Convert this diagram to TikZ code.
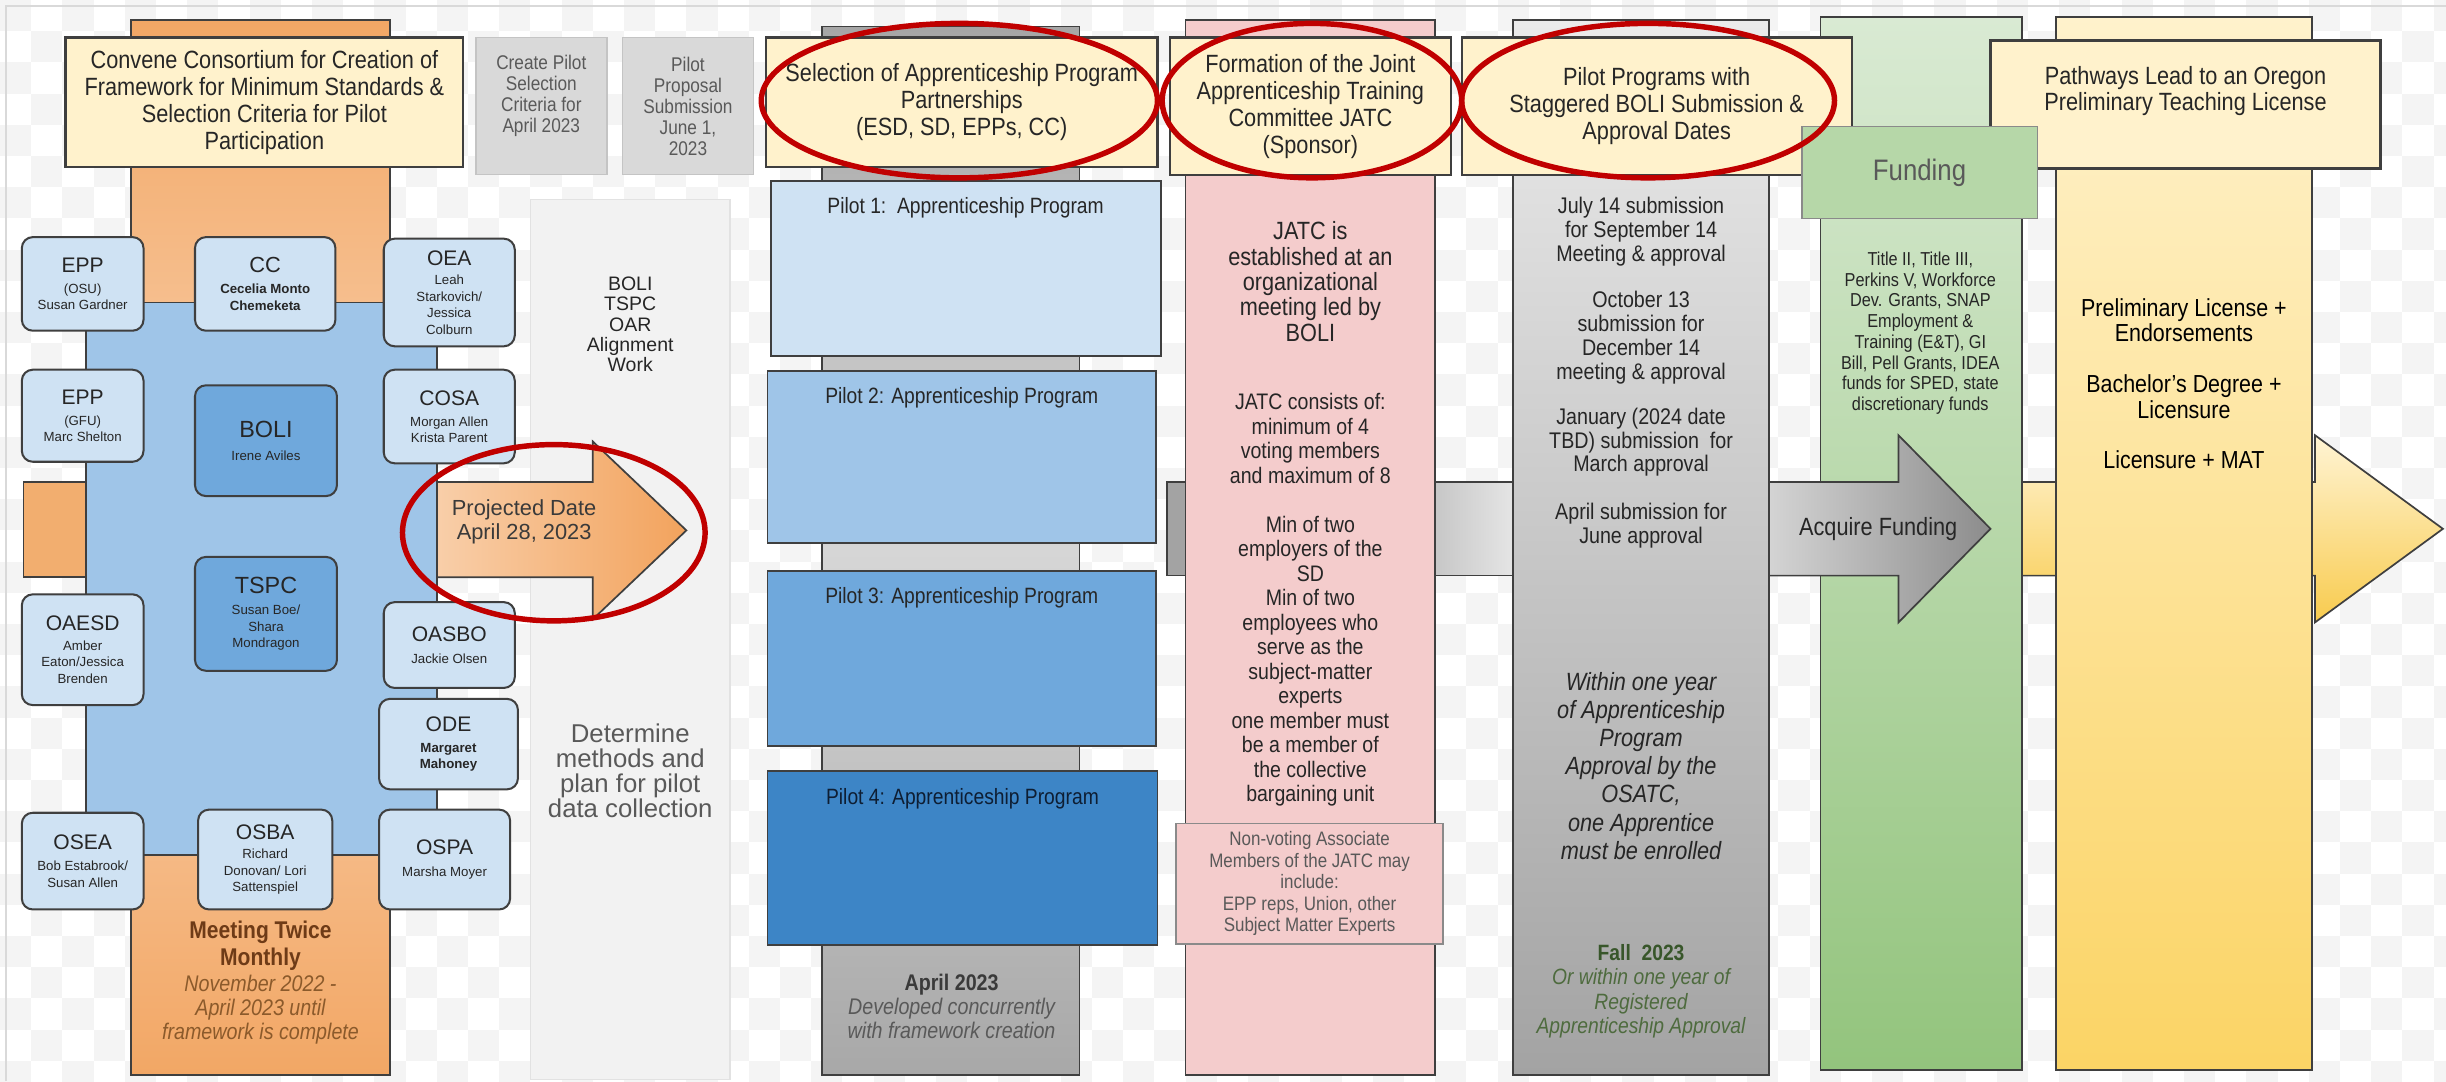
\documentclass[tikz,border=0pt]{standalone}
\usepackage{fontspec}
\setmainfont{Liberation Sans}
\newfontfamily\nar[FakeStretch=0.87]{Liberation Sans}
\usetikzlibrary{shapes.geometric}
\newcommand\fsz[2]{\fontsize{#1}{#2}\selectfont}
\newcommand\acr[2]{{\fontsize{#2}{#2}\selectfont #1}}
\definecolor{hdrfill}{HTML}{FFF2CC}
\definecolor{dk}{HTML}{3F3F3F}
\definecolor{txt}{HTML}{262626}
\definecolor{txtb}{HTML}{3A3A3A}
\definecolor{gtxt}{HTML}{595959}
\definecolor{or1}{HTML}{F2A765}
\definecolor{or2}{HTML}{F9D2B0}
\definecolor{orS}{HTML}{F2AE6F}
\definecolor{orL}{HTML}{FCE4CF}
\definecolor{orR}{HTML}{F2A35D}
\definecolor{bl0}{HTML}{CFE2F3}
\definecolor{bl1}{HTML}{9FC5E8}
\definecolor{bl2}{HTML}{6FA8DC}
\definecolor{bl3}{HTML}{3D85C6}
\definecolor{p4txt}{HTML}{0E1E33}
\definecolor{pinkc}{HTML}{F4CCCC}
\definecolor{ltg}{HTML}{F2F2F2}
\definecolor{ltgb}{HTML}{E2E2E2}
\definecolor{g1}{HTML}{D9D9D9}
\definecolor{g1b}{HTML}{C4C4C4}
\definecolor{gbarT}{HTML}{A6A6A6}
\definecolor{gbarM}{HTML}{D6D6D6}
\definecolor{gbarB}{HTML}{A8A8A8}
\definecolor{ylA}{HTML}{FFF4D4}
\definecolor{ylB}{HTML}{F8CB4E}
\definecolor{gaA}{HTML}{A3A3A3}
\definecolor{gaB1}{HTML}{C4C4C4}
\definecolor{gaB2}{HTML}{E8E8E8}
\definecolor{gaC1}{HTML}{D6D6D6}
\definecolor{gaC2}{HTML}{8C8C8C}
\definecolor{pgT}{HTML}{EBEBEB}
\definecolor{pgB}{HTML}{A3A3A3}
\definecolor{ellred}{HTML}{C00000}
\definecolor{grn1}{HTML}{D9EAD3}
\definecolor{grn2}{HTML}{93C47D}
\definecolor{fund}{HTML}{B6D7A8}
\definecolor{yl1}{HTML}{FFF2CC}
\definecolor{yl2}{HTML}{FBD465}
\definecolor{chk}{HTML}{F4F4F4}
\definecolor{framec}{HTML}{D9D9D9}
\definecolor{meetb}{HTML}{6E3B17}
\definecolor{meeti}{HTML}{8B5A2B}
\definecolor{fallb}{HTML}{38562A}
\definecolor{falli}{HTML}{4E6B3E}
\definecolor{bordg}{HTML}{8A8A8A}
\tikzset{
  colm/.style={draw=dk, line width=1.1pt},
  hdr/.style={draw=dk, fill=hdrfill, line width=1.4pt, inner sep=0pt, align=center, font={\nar\fsz{16}{17.3}}, text=txt},
  mbox/.style={draw=dk, fill=bl0, rounded corners=7pt, line width=1.3pt, inner sep=0pt, align=center, font={\fsz{8.5}{10.5}}, text=txt},
  dbox/.style={mbox, fill=bl2},
  pbox/.style={draw=dk, line width=1.2pt, inner sep=0pt},
  gbox/.style={draw=g1b, fill=g1, line width=1pt, inner sep=0pt, align=center, font={\nar\fsz{12.7}{13.5}}, text=gtxt},
  tx/.style={align=center, inner sep=0pt, text=txt},
  redell/.style={draw=ellred, line width=3.5pt, ellipse, inner sep=0pt}
}
\begin{document}
\begin{tikzpicture}[x=1pt,y=-1pt]
\useasboundingbox (0,0) rectangle (1568,693);
\fill[white] (0,0) rectangle (1568,693);
\foreach \i in {0,...,78}{\pgfmathtruncatemacro\off{mod(\i,2)*20}
  \foreach \j in {0,40,...,680}{\fill[chk] (\i*20,\j+\off) rectangle ++(20,20);}}
\draw[framec, line width=1pt] (4,693) -- (4,4) -- (1568,4);

% ---------- column 1 ----------
\draw[colm, top color=or1, bottom color=or1, middle color=or2] (84,13) rectangle (250,689);
\draw[colm, fill=orS] (15,309) rectangle (70,370);
\draw[draw=ltgb, fill=ltg, line width=1pt] (340,128) rectangle (468,692);
\node[tx, font={\fsz{12.5}{13}}] (alignw) at (404,208) {BOLI\\TSPC\\OAR\\Alignment\\Work};
\node[tx, font={\fsz{16.5}{16}}, text=gtxt] (determ) at (404,494) {Determine\\methods and\\plan for pilot\\data collection};
\draw[colm, left color=orL, right color=orR] (200,309) -- (380,309) -- (380,283) -- (440,340) -- (380,397) -- (380,370) -- (200,370) -- cycle;
\node[tx, font={\fsz{14}{15}}, text=txtb] (pdate) at (336,334.5) {Projected Date\\April 28, 2023};
\draw[colm, fill=bl1] (55,194) rectangle (280,548);
\node[hdr, minimum width=255, minimum height=83] (hconv) at (169.5,65.5) {Convene Consortium for Creation of\\Framework for Minimum Standards \&\\Selection Criteria for Pilot\\Participation};

\node[mbox, minimum width=78, minimum height=60] (epp1) at (53,182) {\acr{EPP}{13.5}\\[3pt](OSU)\\Susan Gardner};
\node[mbox, minimum width=90, minimum height=60] (cc) at (170,182) {\acr{CC}{14}\\[3pt]{\bfseries Cecelia Monto}\\{\bfseries Chemeketa}};
\node[mbox, minimum width=84, minimum height=69] (oea) at (288,187.5) {\acr{OEA}{13.5}\\[2pt]Leah\\Starkovich/\\Jessica\\Colburn};
\node[mbox, minimum width=78, minimum height=59] (epp2) at (53,266.5) {\acr{EPP}{13.5}\\[3pt](GFU)\\Marc Shelton};
\node[dbox, minimum width=91, minimum height=71] (boli) at (170.5,282.5) {\acr{BOLI}{15}\\[4pt]Irene Aviles};
\node[mbox, minimum width=84, minimum height=60] (cosa) at (288,267) {\acr{COSA}{13.5}\\[3pt]Morgan Allen\\Krista Parent};
\node[dbox, minimum width=91, minimum height=73] (tspc) at (170.5,393.5) {\acr{TSPC}{15}\\[3pt]Susan Boe/\\Shara\\Mondragon};
\node[mbox, minimum width=78, minimum height=71] (oaesd) at (53,416.5) {\acr{OAESD}{13.5}\\[2pt]Amber\\Eaton/Jessica\\Brenden};
\node[mbox, minimum width=84, minimum height=55] (oasbo) at (288,413.5) {\acr{OASBO}{13.5}\\[4pt]Jackie Olsen};
\node[mbox, minimum width=89, minimum height=58] (ode) at (287.5,477) {\acr{ODE}{13.5}\\[3pt]{\bfseries Margaret}\\{\bfseries Mahoney}};
\node[mbox, minimum width=78, minimum height=62] (osea) at (53,552) {\acr{OSEA}{13.5}\\[3pt]Bob Estabrook/\\Susan Allen};
\node[mbox, minimum width=86, minimum height=64] (osba) at (170,551) {\acr{OSBA}{13.5}\\[2pt]Richard\\Donovan/ Lori\\Sattenspiel};
\node[mbox, minimum width=84, minimum height=64] (ospa) at (285,551) {\acr{OSPA}{13.5}\\[4pt]Marsha Moyer};
\node[tx, font={\nar\fsz{14.5}{15.5}}] (meet) at (167,630) {{\color{meetb}\bfseries\fsz{15.5}{18}Meeting Twice}\\[2pt]{\color{meetb}\bfseries\fsz{15.5}{18}Monthly}\\[1pt]{\color{meeti}\itshape November 2022 -}\\{\color{meeti}\itshape April 2023 until}\\{\color{meeti}\itshape framework is complete}};

% ---------- column 2 ----------
\node[gbox, minimum width=84, minimum height=88] (crt) at (347,68) {};
\node[tx, font={\nar\fsz{12.7}{13.5}}, text=gtxt] (crtt) at (347,61.5) {Create Pilot\\Selection\\Criteria for\\April 2023};
\node[gbox, minimum width=84, minimum height=88] (ppr) at (441,68) {Pilot\\Proposal\\Submission\\June 1,\\2023};

% ---------- column 3 ----------
\draw[colm, top color=gbarT, bottom color=gbarB, middle color=gbarM] (527,17) rectangle (692,689);
\node[hdr, minimum width=251, minimum height=83] (hsel) at (616.5,65.5) {Selection of Apprenticeship Program\\Partnerships\\(ESD, SD, EPPs, CC)};
\node[pbox, fill=bl0, minimum width=250, minimum height=112] (p1) at (619,172) {};
\node[pbox, fill=bl1, minimum width=249, minimum height=110] (p2) at (616.5,293) {};
\node[pbox, fill=bl2, minimum width=249, minimum height=112] (p3) at (616.5,422) {};
\node[pbox, fill=bl3, minimum width=250, minimum height=112] (p4) at (617,550) {};
\node[tx, font={\nar\fsz{14.2}{15}}] (p1t) at (619,133) {Pilot 1:\ \ Apprenticeship Program};
\node[tx, font={\nar\fsz{14.2}{15}}] (p2t) at (616.5,255) {Pilot 2: Apprenticeship Program};
\node[tx, font={\nar\fsz{14.2}{15}}] (p3t) at (616.5,383) {Pilot 3: Apprenticeship Program};
\node[tx, font={\nar\fsz{14.2}{15}}, text=p4txt] (p4t) at (617,512) {Pilot 4: Apprenticeship Program};
\node[tx, font={\nar\fsz{14.5}{15.5}}, text=gtxt] (apr) at (610,645) {{\bfseries\color{txtb}April 2023}\\{\itshape Developed concurrently}\\{\itshape with framework creation}};

% ---------- arrows behind columns ----------
\draw[colm, top color=ylA, bottom color=ylB] (1290,309) -- (1484,309) -- (1484,279) -- (1566,339) -- (1484,399) -- (1484,369) -- (1290,369) -- cycle;
\draw[colm, top color=grn1, bottom color=grn2] (1167,11) rectangle (1296,686);
\draw[colm, fill=gaA] (748,309) rectangle (765,369);
\draw[colm, left color=gaB1, right color=gaB2] (915,309) rectangle (975,369);
\draw[colm, left color=gaC1, right color=gaC2] (1130,309) -- (1217,309) -- (1217,279) -- (1276,339) -- (1217,399) -- (1217,369) -- (1130,369) -- cycle;
\node[tx, font={\nar\fsz{16}{17}}] (acq) at (1204,339) {Acquire Funding};

% ---------- column 4 (JATC) ----------
\draw[colm, fill=pinkc] (760,13) rectangle (920,689);
\node[hdr, minimum width=180, minimum height=88] (hjatc) at (840,68) {Formation of the Joint\\Apprenticeship Training\\Committee JATC\\(Sponsor)};
\node[tx, font={\nar\fsz{16}{16.2}}] (jatc1) at (840,180.5) {JATC is\\established at an\\organizational\\meeting led by\\BOLI};
\node[tx, font={\nar\fsz{14.4}{15.7}}] (jatc2) at (840,384.5) {JATC consists of:\\minimum of 4\\voting members\\and maximum of 8\\[15.7pt]Min of two\\employers of the\\SD\\Min of two\\employees who\\serve as the\\subject-matter\\experts\\one member must\\be a member of\\the collective\\bargaining unit};
\node[draw=bordg, fill=pinkc, line width=1pt, minimum width=171, minimum height=77, inner sep=0pt, align=center, font={\nar\fsz{12.5}{13.75}}, text=gtxt] (nonv) at (839.5,566.5) {Non-voting Associate\\Members of the JATC may\\include:\\EPP reps, Union, other\\Subject Matter Experts};

% ---------- column 5 (pilot programs) ----------
\draw[colm, top color=pgT, bottom color=pgB] (970,13) rectangle (1134,689);
\node[hdr, minimum width=250, minimum height=88] (hpil) at (1062,68) {Pilot Programs with\\Staggered BOLI Submission \&\\Approval Dates};
\node[tx, font={\nar\fsz{14.5}{15.3}}] (sub1) at (1052,148.5) {July 14 submission\\for September 14\\Meeting \& approval};
\node[tx, font={\nar\fsz{14.5}{15.3}}] (sub2) at (1052,216.5) {October 13\\submission for\\December 14\\meeting \& approval};
\node[tx, font={\nar\fsz{14.5}{15.3}}] (sub3) at (1052,283.5) {January (2024 date\\TBD) submission\ \ for\\March approval};
\node[tx, font={\nar\fsz{14.5}{15.3}}] (sub4) at (1052,337) {April submission for\\June approval};
\node[tx, font={\nar\itshape\fsz{16}{18}}] (within) at (1052,491) {Within one year\\of Apprenticeship\\Program\\Approval by the\\OSATC,\\one Apprentice\\must be enrolled};
\node[tx, font={\nar\fsz{14.2}{15.7}}] (fall) at (1052,635.5) {{\bfseries\color{fallb}Fall\ \ 2023}\\{\itshape\color{falli}Or within one year of}\\{\itshape\color{falli}Registered}\\{\itshape\color{falli}Apprenticeship Approval}};

% ---------- column 6/7 ----------
\node[tx, font={\nar\fsz{12}{13.3}}] (fundt) at (1231,213.5) {Title II, Title III,\\Perkins V, Workforce\\Dev. Grants, SNAP\\Employment \&\\Training (E\&T), GI\\Bill, Pell Grants, IDEA\\funds for SPED, state\\discretionary funds};
\draw[colm, top color=yl1, bottom color=yl2] (1318,11) rectangle (1482,686);
\node[hdr, minimum width=250, minimum height=82] (hpath) at (1401,67) {};
\node[tx, font={\nar\fsz{16}{17}}] (hpatht) at (1401,58.5) {Pathways Lead to an Oregon\\Preliminary Teaching License};
\node[draw=bordg, fill=fund, line width=1pt, minimum width=151, minimum height=59, inner sep=0pt, font={\nar\fsz{19}{20}}, text=gtxt] (fundb) at (1230.5,110.5) {Funding};
\node[tx, font={\nar\fsz{15.8}{16.33}}, text=black] (lic) at (1400,246) {Preliminary License +\\Endorsements\\[16.33pt]Bachelor’s Degree +\\Licensure\\[16.33pt]Licensure + MAT};

% ---------- red ellipses ----------
\node[redell, minimum width=254, minimum height=99] (e1) at (615,64.5) {};
\node[redell, minimum width=192, minimum height=99] (e2) at (841,64.5) {};
\node[redell, minimum width=239, minimum height=99] (e3) at (1056.5,64.5) {};
\node[redell, minimum width=194, minimum height=113] (e4) at (355,341.5) {};
\end{tikzpicture}
\end{document}
